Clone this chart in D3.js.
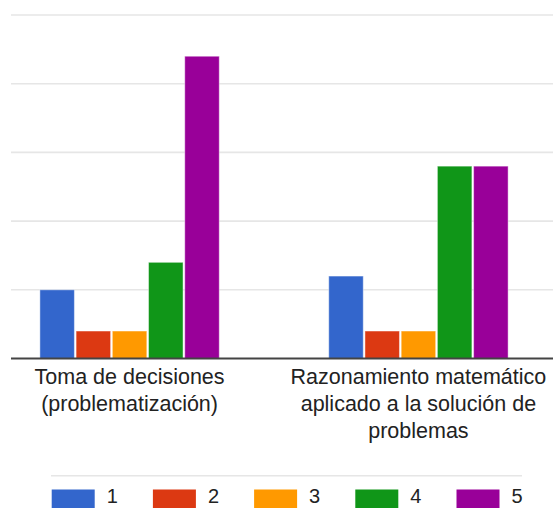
<!DOCTYPE html>
<html>
<head>
<meta charset="utf-8">
<script src="https://cdn.jsdelivr.net/npm/d3@7"></script>
<style>
  html, body { margin: 0; padding: 0; background: #fff; }
  svg { display: block; font-family: "Liberation Sans", Arial, sans-serif; }
</style>
</head>
<body>
<svg id="chart" width="553" height="508"></svg>
<script>
const categories = [
  ["Toma de decisiones", "(problematización)"],
  ["Razonamiento matemático", "aplicado a la solución de", "problemas"]
];
const categoryKeys = ["Toma de decisiones (problematización)", "Razonamiento matemático aplicado a la solución de problemas"];
const seriesNames = ["1", "2", "3", "4", "5"];
const series1 = [5, 6];
const series2 = [2, 2];
const series3 = [2, 2];
const series4 = [7, 14];
const series5 = [22, 14];
const seriesValues = [series1, series2, series3, series4, series5];
const colors = ["#3366cc", "#dc3912", "#ff9900", "#109618", "#990099"];
const yTicks = [0, 5, 10, 15, 20, 25];

const svg = d3.select("#chart");

const y = d3.scaleLinear().domain([0, 25]).range([358.5, 15]);
const x0 = d3.scaleBand().domain(categoryKeys).range([-15, 563]).paddingInner(0.379).paddingOuter(0.19);
const x1 = d3.scaleBand().domain(seriesNames).range([0, x0.bandwidth()]).paddingInner(0.047);

// gridlines
svg.append("g").selectAll("line")
  .data(yTicks.filter(d => d > 0))
  .join("line")
  .attr("x1", 11).attr("x2", 553)
  .attr("y1", d => y(d)).attr("y2", d => y(d))
  .attr("stroke", "#e6e6e6").attr("stroke-width", 1.6);

// bars
const groups = svg.append("g").selectAll("g")
  .data(categoryKeys)
  .join("g")
  .attr("transform", d => `translate(${x0(d)},0)`);

groups.selectAll("rect")
  .data((d, ci) => seriesNames.map((s, si) => ({ s, v: seriesValues[si][ci], c: colors[si] })))
  .join("rect")
  .attr("x", d => x1(d.s))
  .attr("width", x1.bandwidth())
  .attr("y", d => y(d.v))
  .attr("height", d => y(0) - y(d.v))
  .attr("fill", d => d.c)
  .attr("stroke", "#ffffff").attr("stroke-opacity", 0.45).attr("stroke-width", 1);

// baseline
svg.append("line")
  .attr("x1", 11).attr("x2", 553)
  .attr("y1", y(0)).attr("y2", y(0))
  .attr("stroke", "#444").attr("stroke-width", 2);

// category labels
categoryKeys.forEach((k, i) => {
  const cx = x0(k) + x0.bandwidth() / 2;
  const t = svg.append("text")
    .attr("text-anchor", "middle")
    .attr("font-size", 21.5)
    .attr("fill", "#222");
  categories[i].forEach((line, li) => {
    t.append("tspan").attr("x", cx).attr("y", 383.5 + li * 27).text(line);
  });
});

// legend
svg.append("line")
  .attr("x1", 51).attr("x2", 522)
  .attr("y1", 475.7).attr("y2", 475.7)
  .attr("stroke", "#e6e6e6").attr("stroke-width", 1.6);

const legend = svg.append("g").selectAll("g")
  .data(seriesNames)
  .join("g")
  .attr("transform", (d, i) => `translate(${51.7 + i * 101.2},0)`);
legend.append("rect")
  .attr("x", 0).attr("y", 489.5)
  .attr("width", 43).attr("height", 22)
  .attr("fill", (d, i) => colors[i]);
legend.append("text")
  .attr("x", 55).attr("y", 503)
  .attr("font-size", 20)
  .attr("fill", "#222")
  .text(d => d);
</script>
</body>
</html>
